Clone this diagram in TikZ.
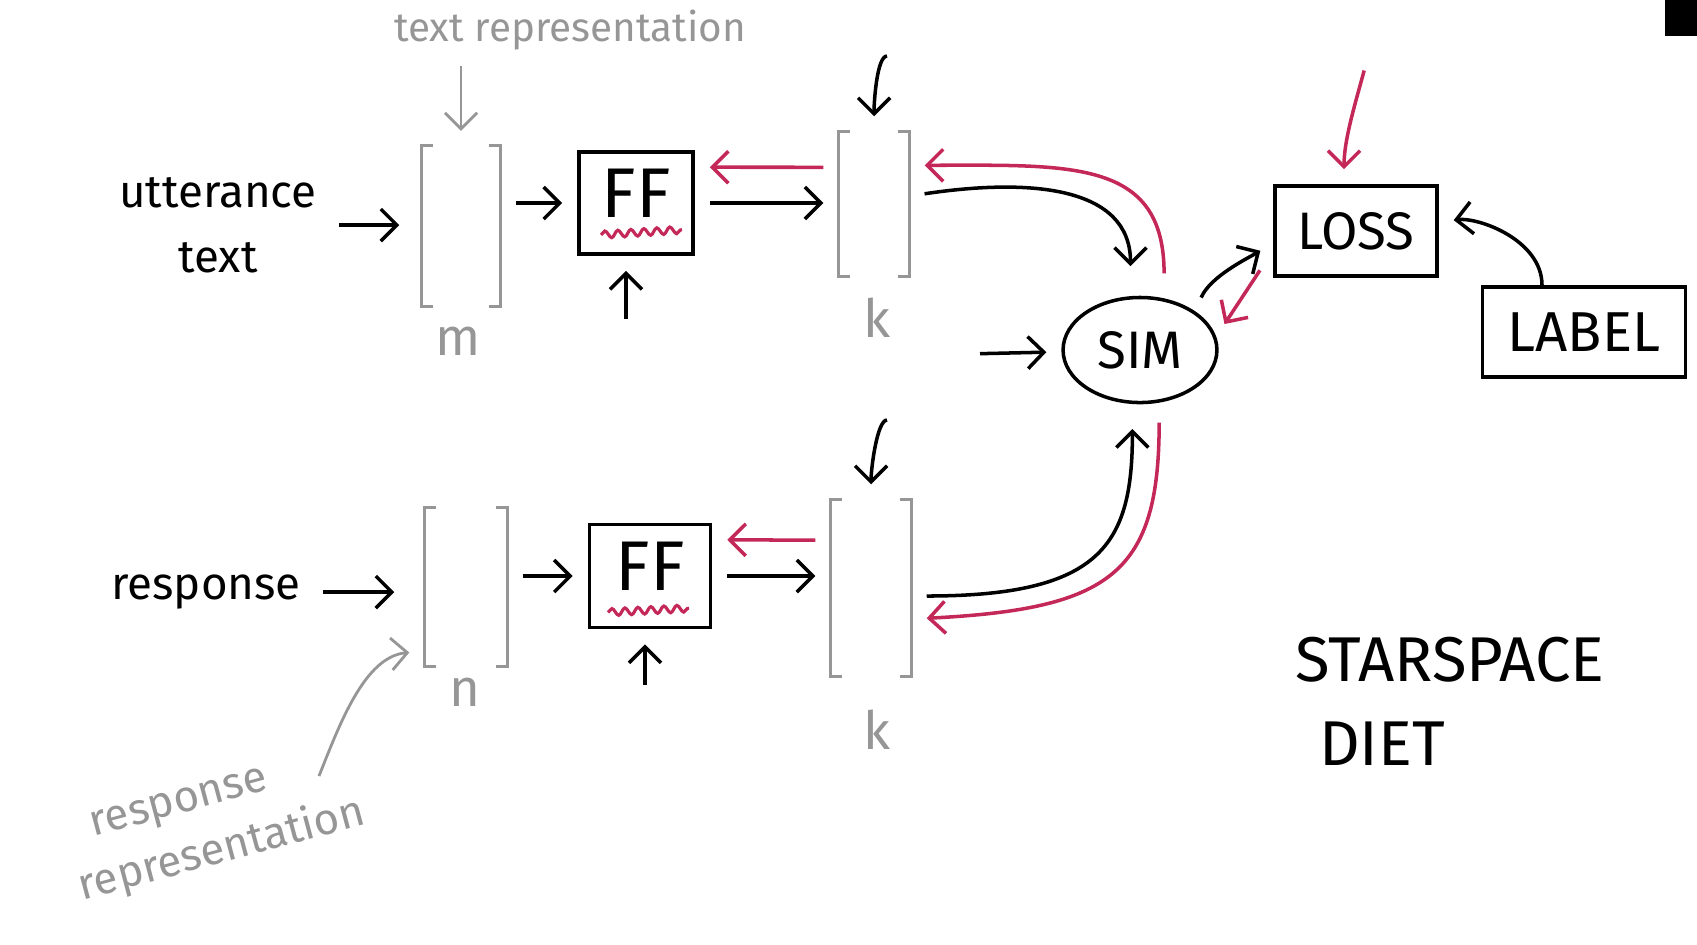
\documentclass[tikz,border=0pt]{standalone}
\usepackage{fontspec}
\setmainfont{Fira Sans}
\usepackage{tikz}
\usetikzlibrary{shapes.geometric, arrows.meta, calc, decorations.pathmorphing}
\definecolor{backred}{RGB}{196,40,88}
\definecolor{repgray}{RGB}{150,150,150}
\tikzstyle{word} = [inner sep=2pt, font=\fontsize{13}{18.5}\selectfont]
\tikzstyle{bigword} = [inner sep=2pt, font=\fontsize{18}{22}\selectfont]
\tikzstyle{note} = [text=repgray, inner sep=2pt, font=\fontsize{11.5}{15}\selectfont]
\tikzstyle{slantnote} = [note, rotate=15, font=\fontsize{12.5}{15}\selectfont]
\tikzstyle{dimlabel} = [text=repgray, font=\fontsize{15}{18}\selectfont]
\tikzstyle{vec} = [rectangle, inner sep=0pt]
\tikzstyle{bracket} = [draw=repgray, line width=0.9pt]
\tikzstyle{ffbox} = [rectangle, draw=black, line width=1pt, text depth=0.2cm, font=\fontsize{20}{22}\selectfont]
\tikzstyle{simnode} = [ellipse, draw=black, line width=1pt, minimum width=1.41cm, minimum height=1.05cm, font=\fontsize{15}{18}\selectfont]
\tikzstyle{scorebox} = [rectangle, draw=black, line width=1pt, minimum height=0.9cm]
\tikzstyle{arrow} = [line width=1pt, -{Straight Barb[length=1.6mm,width=3.2mm]}, shorten <=0.15cm, shorten >=0.15cm]
\tikzstyle{backarrow} = [arrow, draw=backred]
\tikzstyle{grayarrow} = [arrow, draw=repgray, line width=0.8pt]
\tikzstyle{squiggle} = [draw=backred, line width=0.9pt, decorate, decoration={snake, amplitude=0.35mm, segment length=1.3mm}]

\begin{document}
\begin{tikzpicture}[x=0.01cm, y=-0.01cm]
\useasboundingbox (0,0) rectangle (1697,944);
\fill (1665,0) rectangle (1697,36);

\node (txtrep) [note] at (570,30) {text representation};
\node (utt) [word, align=center] at (218,225) {utterance\\text};
\node (vecm) [vec, minimum width=0.78cm, minimum height=1.59cm] at (461,226) {};
\node (mdim) [dimlabel] at (458,341) {m};
\node (ff1) [ffbox, minimum width=1.14cm, minimum height=1.02cm] at (636,203) {FF};
\node (vecku) [vec, minimum width=0.70cm, minimum height=1.44cm] at (874,204) {};
\node (kudim) [dimlabel] at (877,318) {k};
\node (sim) [simnode] at (1140,350) {SIM};
\node (loss) [scorebox, minimum width=1.62cm, font=\fontsize{15}{18}\selectfont] at (1356,231) {LOSS};
\node (lab) [scorebox, minimum width=2.03cm, font=\fontsize{16}{19}\selectfont] at (1584,332) {LABEL};

\node (resp) [word] at (206,592) {response};
\node (vecn) [vec, minimum width=0.82cm, minimum height=1.57cm] at (466,587) {};
\node (ndim) [dimlabel] at (465,692) {n};
\node (ff2) [ffbox, minimum width=1.21cm, minimum height=1.03cm] at (650,576) {FF};
\node (veckr) [vec, minimum width=0.80cm, minimum height=1.76cm] at (871,588) {};
\node (krdim) [dimlabel] at (877,730) {k};
\node (resprep) [slantnote] at (180,806) {response};
\node (resprep2) [slantnote] at (222,850) {representation};

\node (star) [bigword] at (1450,660) {STARSPACE};
\node (diet) [bigword] at (1382,744) {DIET};

\coordinate (ff1in) at (626,334);
\coordinate (ff2in) at (645,700);
\coordinate (kuin) at (902,56);
\coordinate (krin) at (902,420);
\coordinate (simin) at (965,354);
\coordinate (lossin) at (1368,56);
\coordinate (rrtail) at (319,776);

\draw [bracket] ($(vecm.north west)+(12,0)$) -- (vecm.north west) -- (vecm.south west) -- ++(12,0);
\draw [bracket] ($(vecm.north east)+(-12,0)$) -- (vecm.north east) -- (vecm.south east) -- ++(-12,0);
\draw [bracket] ($(vecku.north west)+(12,0)$) -- (vecku.north west) -- (vecku.south west) -- ++(12,0);
\draw [bracket] ($(vecku.north east)+(-12,0)$) -- (vecku.north east) -- (vecku.south east) -- ++(-12,0);
\draw [bracket] ($(vecn.north west)+(12,0)$) -- (vecn.north west) -- (vecn.south west) -- ++(12,0);
\draw [bracket] ($(vecn.north east)+(-12,0)$) -- (vecn.north east) -- (vecn.south east) -- ++(-12,0);
\draw [bracket] ($(veckr.north west)+(12,0)$) -- (veckr.north west) -- (veckr.south west) -- ++(12,0);
\draw [bracket] ($(veckr.north east)+(-12,0)$) -- (veckr.north east) -- (veckr.south east) -- ++(-12,0);

\draw [squiggle] ($(ff1.south)+(-35,-21)$) -- ($(ff1.south)+(46,-26)$);
\draw [squiggle] ($(ff2.south)+(-42,-17)$) -- ($(ff2.south)+(39,-21)$);

\draw [grayarrow, shorten <=0.08cm] (txtrep.south -| vecm) -- (vecm.north);
\draw [arrow, shorten >=0.22cm] (utt) -- (utt -| vecm.west);
\draw [arrow] (vecm.east |- ff1) -- (ff1);
\draw [arrow] (ff1in) -- (ff1in |- ff1.south);
\draw [backarrow] ($(vecku.north west)+(0,36)$) -- ($(ff1.north east)+(0,17)$);
\draw [arrow] (ff1) -- (ff1 -| vecku.west);
\draw [arrow] (kuin) .. controls +(-25,0) and +(0,-30) .. (vecku.north);
\draw [arrow, shorten >=0.3cm] ($(vecku.east)+(0,-8)$) .. controls +(120,-18) and +(0,-110) .. (sim.100);
\draw [backarrow, shorten <=0.25cm] (sim.65) .. controls +(0,-140) and +(160,0) .. ($(vecku.north east)+(0,34)$);

\draw [arrow] (simin) -- (sim);
\draw [arrow] (sim.35) .. controls +(15,-35) and +(-25,15) .. ($(loss.west)+(0,12)$);
\draw [backarrow] ($(loss.south west)+(-5,-20)$) -- (sim.10);
\draw [backarrow] (lossin) .. controls +(-12,45) and +(0,-45) .. ($(loss.north)+(-12,0)$);
\draw [arrow, shorten <=0pt] ($(lab.north)+(-42,0)$) .. controls +(0,-45) and +(40,-5) .. ($(loss.east)+(0,-9)$);

\draw [arrow, shorten >=0.3cm] (resp) -- (resp -| vecn.west);
\draw [grayarrow, shorten <=0pt] (rrtail) .. controls +(20,-50) and +(-60,5) .. ($(vecn.south west)+(0,-15)$);
\draw [arrow] (vecn.east |- ff2) -- (ff2);
\draw [arrow] (ff2in) -- (ff2in |- ff2.south);
\draw [backarrow] ($(veckr.north west)+(0,41)$) -- ($(ff2.north east)+(0,17)$);
\draw [arrow] (ff2) -- (ff2 -| veckr.west);
\draw [arrow] (krin) .. controls +(-25,0) and +(0,-30) .. (veckr.north);
\draw [arrow, shorten >=0.25cm] ($(veckr.east)+(0,8)$) .. controls +(190,0) and +(0,140) .. (sim.262);
\draw [backarrow, shorten <=0.2cm] (sim.290) .. controls +(0,170) and +(200,-10) .. ($(veckr.east)+(0,31)$);

\end{tikzpicture}
\end{document}
